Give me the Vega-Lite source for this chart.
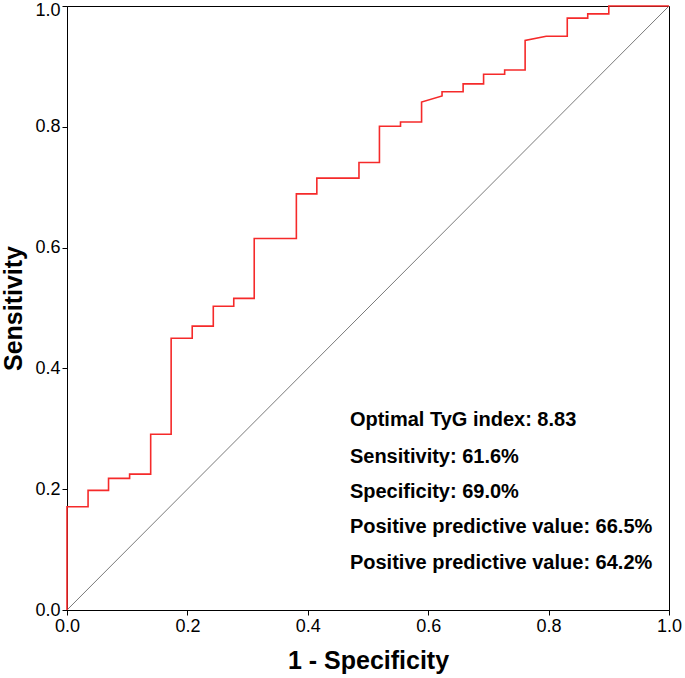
{
  "$schema": "https://vega.github.io/schema/vega-lite/v6.json",
  "width": 602,
  "height": 604,
  "autosize": {"type": "none"},
  "padding": {"left": 67, "top": 6, "right": 16, "bottom": 68},
  "background": "white",
  "config": {
    "view": {"stroke": "#000000", "strokeWidth": 1},
    "font": "Liberation Sans",
    "axis": {
      "grid": false,
      "domainColor": "#000000",
      "tickColor": "#000000",
      "tickSize": 5,
      "labelFontSize": 18,
      "labelColor": "#000000",
      "labelPadding": 2,
      "titleFontSize": 25,
      "titleFontWeight": "bold",
      "titleColor": "#000000",
      "labelFont": "Liberation Sans",
      "titleFont": "Liberation Sans"
    }
  },
  "datasets": {
    "roc": [
      {"i": 0, "fpr": 0, "tpr": 0},
      {"i": 1, "fpr": 0, "tpr": 0.171},
      {"i": 2, "fpr": 0.035, "tpr": 0.171},
      {"i": 3, "fpr": 0.035, "tpr": 0.198},
      {"i": 4, "fpr": 0.069, "tpr": 0.198},
      {"i": 5, "fpr": 0.069, "tpr": 0.218},
      {"i": 6, "fpr": 0.104, "tpr": 0.218},
      {"i": 7, "fpr": 0.104, "tpr": 0.225},
      {"i": 8, "fpr": 0.139, "tpr": 0.225},
      {"i": 9, "fpr": 0.139, "tpr": 0.291},
      {"i": 10, "fpr": 0.173, "tpr": 0.291},
      {"i": 11, "fpr": 0.173, "tpr": 0.45},
      {"i": 12, "fpr": 0.208, "tpr": 0.45},
      {"i": 13, "fpr": 0.208, "tpr": 0.47},
      {"i": 14, "fpr": 0.243, "tpr": 0.47},
      {"i": 15, "fpr": 0.243, "tpr": 0.503},
      {"i": 16, "fpr": 0.277, "tpr": 0.503},
      {"i": 17, "fpr": 0.277, "tpr": 0.516},
      {"i": 18, "fpr": 0.311, "tpr": 0.516},
      {"i": 19, "fpr": 0.311, "tpr": 0.615},
      {"i": 20, "fpr": 0.381, "tpr": 0.615},
      {"i": 21, "fpr": 0.381, "tpr": 0.689},
      {"i": 22, "fpr": 0.415, "tpr": 0.689},
      {"i": 23, "fpr": 0.415, "tpr": 0.715},
      {"i": 24, "fpr": 0.485, "tpr": 0.715},
      {"i": 25, "fpr": 0.485, "tpr": 0.741},
      {"i": 26, "fpr": 0.519, "tpr": 0.741},
      {"i": 27, "fpr": 0.519, "tpr": 0.801},
      {"i": 28, "fpr": 0.554, "tpr": 0.801},
      {"i": 29, "fpr": 0.554, "tpr": 0.808},
      {"i": 30, "fpr": 0.589, "tpr": 0.808},
      {"i": 31, "fpr": 0.589, "tpr": 0.841},
      {"i": 32, "fpr": 0.623, "tpr": 0.851},
      {"i": 33, "fpr": 0.623, "tpr": 0.858},
      {"i": 34, "fpr": 0.658, "tpr": 0.858},
      {"i": 35, "fpr": 0.658, "tpr": 0.871},
      {"i": 36, "fpr": 0.692, "tpr": 0.871},
      {"i": 37, "fpr": 0.692, "tpr": 0.887},
      {"i": 38, "fpr": 0.727, "tpr": 0.887},
      {"i": 39, "fpr": 0.727, "tpr": 0.894},
      {"i": 40, "fpr": 0.761, "tpr": 0.894},
      {"i": 41, "fpr": 0.761, "tpr": 0.943},
      {"i": 42, "fpr": 0.796, "tpr": 0.95},
      {"i": 43, "fpr": 0.831, "tpr": 0.95},
      {"i": 44, "fpr": 0.831, "tpr": 0.98},
      {"i": 45, "fpr": 0.865, "tpr": 0.98},
      {"i": 46, "fpr": 0.865, "tpr": 0.987},
      {"i": 47, "fpr": 0.9, "tpr": 0.987},
      {"i": 48, "fpr": 0.9, "tpr": 1.0},
      {"i": 49, "fpr": 1.0, "tpr": 1.0}
    ],
    "diag": [
      {"fpr": 0, "tpr": 0},
      {"fpr": 1, "tpr": 1}
    ],
    "notes": [
      {"fpr": 0.47, "tpr": 0.315, "label": "Optimal TyG index: 8.83"},
      {"fpr": 0.47, "tpr": 0.253, "label": "Sensitivity: 61.6%"},
      {"fpr": 0.47, "tpr": 0.195, "label": "Specificity: 69.0%"},
      {"fpr": 0.47, "tpr": 0.137, "label": "Positive predictive value: 66.5%"},
      {"fpr": 0.47, "tpr": 0.078, "label": "Positive predictive value: 64.2%"}
    ]
  },
  "layer": [
    {
      "data": {"name": "diag"},
      "mark": {"type": "line", "color": "#7a7a7a", "strokeWidth": 1},
      "encoding": {
        "x": {
          "field": "fpr", "type": "quantitative",
          "scale": {"domain": [0, 1], "nice": false, "zero": false},
          "axis": {"title": "1 - Specificity", "values": [0, 0.2, 0.4, 0.6, 0.8, 1.0], "format": ".1f", "titlePadding": 13, "labelFlush": false}
        },
        "y": {
          "field": "tpr", "type": "quantitative",
          "scale": {"domain": [0, 1], "nice": false, "zero": false},
          "axis": {
            "title": "Sensitivity", "values": [0, 0.2, 0.4, 0.6, 0.8, 1.0], "format": ".1f", "titlePadding": 8, "labelFlush": false,
            "labelOffset": {"condition": {"test": "datum.value == 1", "value": 4}, "value": 0}
          }
        }
      }
    },
    {
      "data": {"name": "roc"},
      "mark": {"type": "line", "color": "#f52a2a", "strokeWidth": 1.6},
      "encoding": {
        "x": {"field": "fpr", "type": "quantitative"},
        "y": {"field": "tpr", "type": "quantitative"},
        "order": {"field": "i", "type": "quantitative"}
      }
    },
    {
      "data": {"name": "notes"},
      "mark": {"type": "text", "align": "left", "baseline": "middle", "fontSize": 20, "fontWeight": "bold", "font": "Liberation Sans", "color": "#000000"},
      "encoding": {
        "x": {"field": "fpr", "type": "quantitative"},
        "y": {"field": "tpr", "type": "quantitative"},
        "text": {"field": "label"}
      }
    }
  ]
}
